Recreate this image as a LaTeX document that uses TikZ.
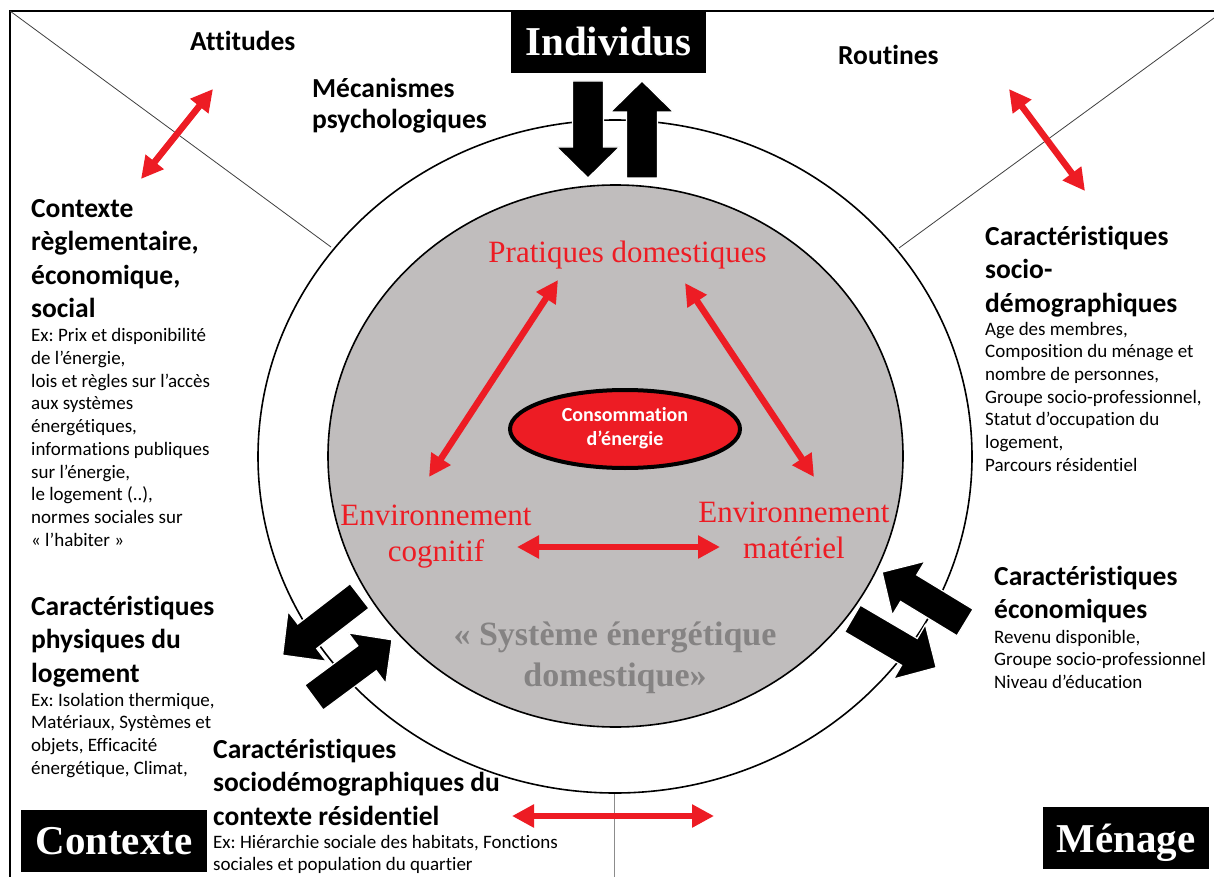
\documentclass[tikz,border=0pt]{standalone}
\usepackage{fontspec}
\setmainfont{Carlito}[Ligatures={NoCommon}]
\newfontfamily\tnr{Liberation Serif}
\usetikzlibrary{arrows.meta,shapes.geometric}
\definecolor{myred}{RGB}{237,28,36}
\definecolor{ingray}{RGB}{192,189,189}
\definecolor{txtgray}{RGB}{133,131,131}
\frenchspacing
\begin{document}
\begin{tikzpicture}[x=1pt,y=-1pt,
 head/.style={font=\bfseries\fontsize{27.5}{33.5}\selectfont, align=left, anchor=north west, inner sep=0pt},
 extext/.style={font=\fontsize{19}{22.7}\selectfont, align=left, anchor=north west, inner sep=0pt},
 redtext/.style={font=\tnr\fontsize{31}{36}\selectfont, text=myred, align=center, inner sep=0pt},
 blackbox/.style={fill=black, text=white, font=\tnr\bfseries\fontsize{41}{48}\selectfont, inner sep=0pt, minimum height=62pt, text height=28pt, text depth=0pt},
 redarrow/.style={draw=myred, line width=6.5pt, arrows={Triangle[length=22pt,width=22pt]-Triangle[length=22pt,width=22pt]}},
 blockarrow/.pic={\fill[black, draw=white, line width=1.2pt] (0,-15.5) -- (66,-15.5) -- (66,-31.5) -- (97,0) -- (66,31.5) -- (66,15.5) -- (0,15.5) -- cycle;},
]
\useasboundingbox (0,0) rectangle (1214,877);
\fill[white] (0,0) rectangle (1214,877);

% frame and dividers
\coordinate (tl) at (10,11);
\coordinate (bl) at (10,877);
\coordinate (tr) at (1214,11);
\coordinate (dl) at (331,247);
\coordinate (dr1) at (1214,18);
\coordinate (dr) at (899,248);
\coordinate (vb1) at (614.5,793);
\coordinate (vb2) at (614.5,877);
\draw[line width=1.8pt] (bl) -- (tl) -- (tr);
\draw[line width=0.8pt, black!75] (tl) -- (dl);
\draw[line width=0.8pt, black!75] (dr1) -- (dr);
\draw[line width=1.5pt, black!45] (vb1) -- (vb2);

% circles
\draw[line width=1.6pt] (615,456.5) ellipse [x radius=357, y radius=336.5];
\draw[fill=ingray, line width=1.6pt] (615.5,456) ellipse [x radius=287.5, y radius=271];

% boxes
\node[blackbox, minimum width=195pt] (indiv) at (608.5,42) {Individus};
\node[blackbox, minimum width=186pt] (ctx) at (114,840.5) {Contexte};
\node[blackbox, minimum width=166pt] (men) at (1126,838) {Ménage};

% texts
\node[head] (attitudes) at (190,26.5) {\strut Attitudes};
\node[head, font=\bfseries\fontsize{27.5}{31}\selectfont] (meca) at (312,75.3) {\strut Mécanismes\\psychologiques};
\node[head] (routines) at (838,40.5) {\strut Routines};
\node[head] (ctxh) at (31,193.5) {\strut Contexte\\règlementaire,\\économique,\\social};
\node[extext] (ctxex) at (31,325.8) {\strut Ex: Prix et disponibilité\\de l’énergie,\\lois et règles sur l’accès\\aux systèmes\\énergétiques,\\informations publiques\\sur l’énergie,\\le logement (..),\\normes sociales sur\\« l’habiter »};
\node[head] (physh) at (31,591.5) {\strut Caractéristiques\\physiques du\\logement};
\node[extext] (physex) at (31,690.1) {\strut Ex: Isolation thermique,\\Matériaux, Systèmes et\\objets, Efficacité\\énergétique, Climat,};
\node[head] (resh) at (213,734.5) {\strut Caractéristiques\\sociodémographiques du\\contexte résidentiel};
\node[extext] (resex) at (213,832.1) {\strut Ex: Hiérarchie sociale des habitats, Fonctions\\sociales et population du quartier};
\node[head] (demoh) at (985,221.5) {\strut Caractéristiques\\socio-\\démographiques};
\node[extext] (demoex) at (985,319.1) {\strut Age des membres,\\Composition du ménage et\\nombre de personnes,\\Groupe socio-professionnel,\\Statut d’occupation du\\logement,\\Parcours résidentiel};
\node[head] (ecoh) at (994,561.5) {\strut Caractéristiques\\économiques};
\node[extext] (ecoex) at (994,627.1) {\strut Revenu disponible,\\Groupe socio-professionnel\\Niveau d’éducation};

% inner system
\node[redtext, anchor=base] (prat) at (627.5,262) {Pratiques domestiques};
\node[redtext, anchor=north] (envc) at (436,499.8) {\strut Environnement\\cognitif};
\node[redtext, anchor=north] (envm) at (794,496.8) {\strut Environnement\\matériel};
\node[font=\tnr\bfseries\fontsize{34}{41}\selectfont, text=txtgray, align=center, anchor=north, inner sep=0pt] (sys) at (615,616.3) {\strut « Système énergétique\\domestique»};
\node[ellipse, draw=black, line width=4pt, fill=myred, text=white, font=\bfseries\fontsize{20}{24}\selectfont, align=center, minimum width=230pt, minimum height=78pt, inner sep=0pt] (conso) at (625,429) {\strut Consommation\\d’énergie\strut};

% red double arrows
\coordinate (a1) at (213,89);
\coordinate (a2) at (141,179);
\coordinate (r1) at (1009,89);
\coordinate (r2) at (1085,191);
\coordinate (p1) at (558,280);
\coordinate (c1) at (429,477);
\coordinate (p2) at (685,283);
\coordinate (m1) at (814,477);
\coordinate (c2) at (517,547);
\coordinate (m2) at (720,547);
\coordinate (b1) at (512,816);
\coordinate (b2) at (714,816);
\draw[redarrow] (a1) -- (a2);
\draw[redarrow] (r1) -- (r2);
\draw[redarrow] (p1) -- (c1);
\draw[redarrow] (p2) -- (m1);
\draw[redarrow] (c2) -- (m2);
\draw[redarrow] (b1) -- (b2);

% black block arrows
\pic[rotate=-90] at (588,81) {blockarrow};
\pic[rotate=90] at (642,178) {blockarrow};
\pic[rotate=217.6] at (359.5,596) {blockarrow};
\pic[rotate=36.5] at (314,697.5) {blockarrow};
\pic[rotate=148.7] at (965,622.5) {blockarrow};
\pic[rotate=-30.4] at (852.5,618.5) {blockarrow};
\end{tikzpicture}
\end{document}
